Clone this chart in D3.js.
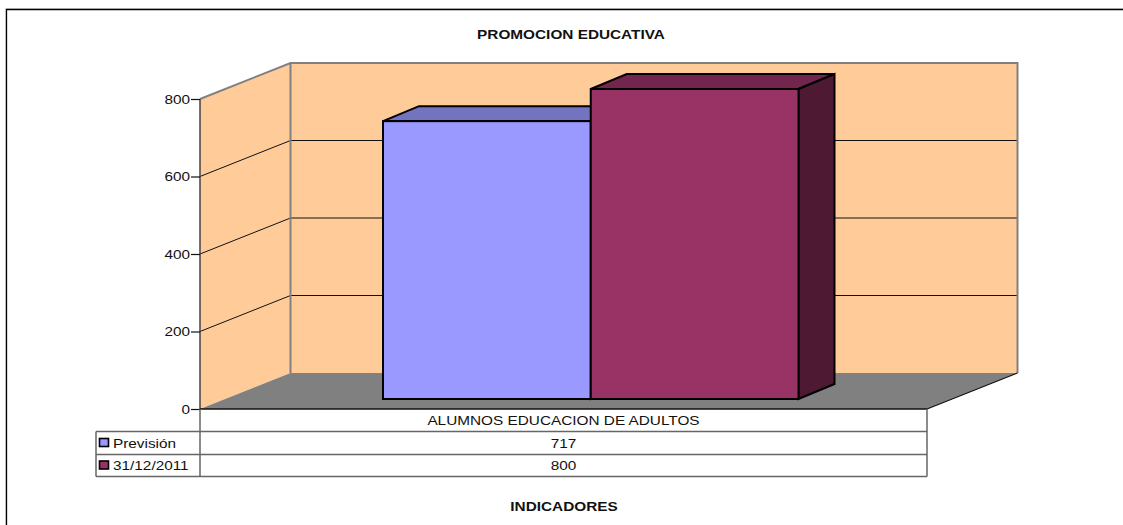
<!DOCTYPE html>
<html><head><meta charset="utf-8">
<script src="https://cdnjs.cloudflare.com/ajax/libs/d3/7.8.5/d3.min.js"></script>
<style>html,body{margin:0;padding:0;background:#fff}svg{display:block}text{font-family:"Liberation Sans",Arial,sans-serif;fill:#111}</style>
</head><body><div id="c"></div>
<script>
const chartTitle = "PROMOCION EDUCATIVA";
const axisTitle = "INDICADORES";
const category = "ALUMNOS EDUCACION DE ADULTOS";
const seriesNames = ["Previsión", "31/12/2011"];
const seriesValues = [717, 800];
const yTicks = [0, 200, 400, 600, 800];
const seriesColors = ["#9999FF", "#993366"];
const topColors = ["#7373BF", "#73264D"];
const sideColors = ["#4D4D80", "#4D1933"];

const W = 1123, H = 525;
const svg = d3.select("#c").append("svg").attr("width", W).attr("height", H);
const y = d3.scaleLinear().domain([0, 800]).range([409, 99]);
const x = d3.scaleLinear().domain([0, 1]).range([200, 927]);
const depth = {dx: 90.5, dy: -36};
const barOff = {dx: 0, dy: -10};
const barDepth = {dx: 36, dy: -15};
const band = d3.scaleBand().domain(seriesNames).range([383, 798.5]);

const pts = a => a.map(p => p.join(",")).join(" ");
// widen glyphs horizontally, as in the reference
const widen = sel => sel.each(function () {
  const len = this.getComputedTextLength();
  d3.select(this).attr("textLength", len * 1.18).attr("lengthAdjust", "spacingAndGlyphs");
});

// frame
svg.append("path").attr("d", "M5.5,525V8.5H1123").attr("fill", "none").attr("stroke", "#ddd").attr("stroke-width", 1);
svg.append("path").attr("d", "M6.5,525V9.5H1123").attr("fill", "none").attr("stroke", "#000").attr("stroke-width", 1.3);

const bx0 = x(0) + depth.dx, bx1 = x(1) + depth.dx;
// side wall
svg.append("polygon").attr("points", pts([[x(0), y(0)], [bx0, y(0) + depth.dy], [bx0, y(800) + depth.dy], [x(0), y(800)]])).attr("fill", "#FFCC99");
// back wall
svg.append("rect").attr("x", bx0).attr("y", y(800) + depth.dy).attr("width", bx1 - bx0).attr("height", y(0) - y(800)).attr("fill", "#FFCC99");
// floor
svg.append("polygon").attr("points", pts([[x(0), y(0)], [bx0, y(0) + depth.dy], [bx1, y(0) + depth.dy], [x(1), y(0)]])).attr("fill", "#808080");

// gridlines
yTicks.slice(1, -1).forEach(t => {
  svg.append("polyline").attr("points", pts([[x(0), y(t)], [bx0, y(t) + depth.dy], [bx1, y(t) + depth.dy]]))
    .attr("fill", "none").attr("stroke", "#111").attr("stroke-width", 1);
});
// wall outlines
svg.append("polyline").attr("points", pts([[x(0), y(800)], [bx0, y(800) + depth.dy], [bx1, y(800) + depth.dy], [bx1, y(0) + depth.dy]]))
  .attr("fill", "none").attr("stroke", "#808080").attr("stroke-width", 2);
svg.append("line").attr("x1", bx0).attr("x2", bx0).attr("y1", y(800) + depth.dy).attr("y2", y(0) + depth.dy).attr("stroke", "#808080").attr("stroke-width", 2);
svg.append("line").attr("x1", bx1).attr("x2", x(1)).attr("y1", y(0) + depth.dy).attr("y2", y(0)).attr("stroke", "#111").attr("stroke-width", 1.2);

// bars
seriesNames.forEach((n, i) => {
  const l = band(n), r = l + band.bandwidth();
  const b = y(0) + barOff.dy, t = y(seriesValues[i]) + barOff.dy;
  const d = barDepth;
  const g = svg.append("g").attr("stroke", "#000").attr("stroke-width", 2).attr("stroke-linejoin", "miter");
  g.append("polygon").attr("points", pts([[l, t], [l + d.dx, t + d.dy], [r + d.dx, t + d.dy], [r, t]])).attr("fill", topColors[i]);
  g.append("polygon").attr("points", pts([[r, t], [r + d.dx, t + d.dy], [r + d.dx, b + d.dy], [r, b]])).attr("fill", sideColors[i]);
  g.append("rect").attr("x", l).attr("y", t).attr("width", r - l).attr("height", b - t).attr("fill", seriesColors[i]);
});

// y axis
svg.append("line").attr("x1", x(0)).attr("x2", x(0)).attr("y1", y(800)).attr("y2", y(0)).attr("stroke", "#444").attr("stroke-width", 1.5);
const axis = d3.axisLeft(y).tickValues(yTicks).tickSize(9).tickPadding(1).tickFormat(d3.format("d"));
const ag = svg.append("g").attr("transform", `translate(${x(0)},0)`).call(axis);
ag.select(".domain").remove();
ag.selectAll("line").attr("stroke", "#111").attr("stroke-width", 1.2);
ag.selectAll("text").attr("font-size", 13).style("font-family", '"Liberation Sans",Arial,sans-serif').attr("fill", "#111").call(widen);

// data table
const rowY = [409, 431.5, 454.5, 476.5];
const tbl = svg.append("g").attr("stroke", "#666").attr("stroke-width", 1.5);
tbl.append("line").attr("x1", x(0)).attr("x2", x(1)).attr("y1", y(0)).attr("y2", y(0)).attr("stroke", "#111");
tbl.append("line").attr("x1", 96).attr("x2", x(1)).attr("y1", rowY[1]).attr("y2", rowY[1]);
tbl.append("line").attr("x1", 96).attr("x2", x(1)).attr("y1", rowY[2]).attr("y2", rowY[2]);
tbl.append("line").attr("x1", 96).attr("x2", x(1)).attr("y1", rowY[3]).attr("y2", rowY[3]);
tbl.append("line").attr("x1", 96).attr("x2", 96).attr("y1", rowY[1]).attr("y2", rowY[3]);
tbl.append("line").attr("x1", x(0)).attr("x2", x(0)).attr("y1", rowY[0]).attr("y2", rowY[3]);
tbl.append("line").attr("x1", x(1)).attr("x2", x(1)).attr("y1", rowY[0]).attr("y2", rowY[3]);

const mid = (x(0) + x(1)) / 2;
svg.append("text").attr("x", mid).attr("y", 424.5).attr("text-anchor", "middle").attr("font-size", 13).text(category).call(widen);
seriesNames.forEach((n, i) => {
  const cy = (rowY[i + 1] + rowY[i + 2]) / 2;
  svg.append("rect").attr("x", 99.5).attr("y", cy - 4.5).attr("width", 9).attr("height", 8).attr("fill", seriesColors[i]).attr("stroke", "#000").attr("stroke-width", 1.6);
  svg.append("text").attr("x", 113).attr("y", cy + 4.5).attr("font-size", 13).text(n).call(widen);
  svg.append("text").attr("x", mid).attr("y", cy + 4.5).attr("text-anchor", "middle").attr("font-size", 13).text(seriesValues[i]).call(widen);
});

svg.append("text").attr("x", 571).attr("y", 39).attr("text-anchor", "middle").attr("font-size", 13).attr("font-weight", "bold").text(chartTitle).call(widen);
svg.append("text").attr("x", 564).attr("y", 511).attr("text-anchor", "middle").attr("font-size", 13).attr("font-weight", "bold").text(axisTitle).call(widen);
</script></body></html>
